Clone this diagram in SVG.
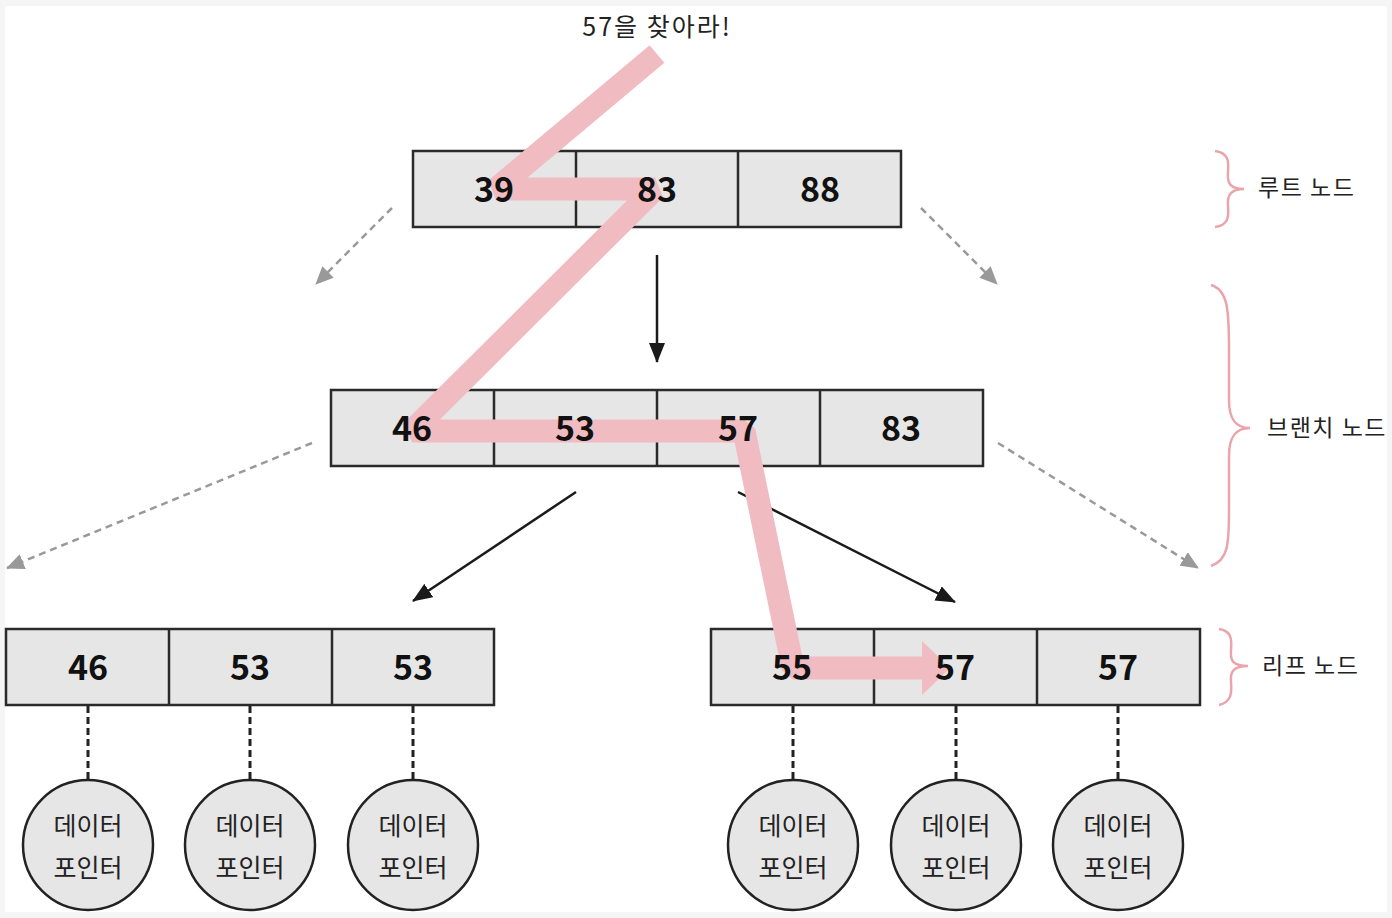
<svg xmlns="http://www.w3.org/2000/svg" width="1392" height="918" viewBox="0 0 1392 918">
<style>
.cell{fill:#e6e6e6;stroke:#2a2a2a;stroke-width:2.5}
.div{stroke:#2a2a2a;stroke-width:2.5}
.key{font-family:"Noto Sans CJK KR","Noto Sans",sans-serif;font-weight:700;font-size:34px;fill:#111;text-anchor:middle}
.lbl{font-family:"Noto Sans CJK KR","Noto Sans",sans-serif;font-size:25px;fill:#222;text-anchor:middle}
.side{font-family:"Noto Sans CJK KR","Noto Sans",sans-serif;font-size:23px;letter-spacing:1.5px;fill:#222}
.ptr{fill:#e6e6e6;stroke:#222;stroke-width:2.5}
.solid{stroke:#1a1a1a;stroke-width:2.5;fill:none}
.gray{stroke:#999;stroke-width:2.5;stroke-dasharray:7 5;fill:none}
.dot{stroke:#222;stroke-width:3;stroke-dasharray:7 4;fill:none}
.brace{stroke:#eba4ab;stroke-width:2.5;fill:none}
</style>
<defs>
<marker id="ab" markerUnits="userSpaceOnUse" markerWidth="20" markerHeight="16" refX="19" refY="8" orient="auto"><path d="M0,0 L20,8 L0,16 z" fill="#1a1a1a"/></marker>
<marker id="ag" markerUnits="userSpaceOnUse" markerWidth="18" markerHeight="16" refX="17" refY="8" orient="auto"><path d="M0,0 L18,8 L0,16 z" fill="#999"/></marker>
</defs>
<rect x="0" y="0" width="1392" height="918" fill="#f5f5f5"/>
<rect x="5" y="6" width="1382" height="906" fill="#ffffff"/>

<g id="root-node">
<rect class="cell" x="413" y="151" width="488" height="76"/>
<line class="div" x1="576" y1="151" x2="576" y2="227"/>
<line class="div" x1="738" y1="151" x2="738" y2="227"/>
</g>
<g id="branch-node">
<rect class="cell" x="331" y="390" width="652" height="76"/>
<line class="div" x1="494" y1="390" x2="494" y2="466"/>
<line class="div" x1="657" y1="390" x2="657" y2="466"/>
<line class="div" x1="820" y1="390" x2="820" y2="466"/>
</g>
<g id="leaf-left">
<rect class="cell" x="6" y="629" width="488" height="76"/>
<line class="div" x1="169" y1="629" x2="169" y2="705"/>
<line class="div" x1="332" y1="629" x2="332" y2="705"/>
</g>
<g id="leaf-right">
<rect class="cell" x="711" y="629" width="489" height="76"/>
<line class="div" x1="874" y1="629" x2="874" y2="705"/>
<line class="div" x1="1037" y1="629" x2="1037" y2="705"/>
</g>

<g id="connectors">
<line class="solid" x1="657" y1="255" x2="657" y2="362" marker-end="url(#ab)"/>
<line class="solid" x1="576" y1="492" x2="413" y2="601" marker-end="url(#ab)"/>
<line class="solid" x1="738" y1="492" x2="955" y2="602" marker-end="url(#ab)"/>
<line class="gray" x1="392" y1="208" x2="316" y2="284" marker-end="url(#ag)"/>
<line class="gray" x1="921" y1="208" x2="997" y2="284" marker-end="url(#ag)"/>
<line class="gray" x1="312" y1="443" x2="7" y2="568" marker-end="url(#ag)"/>
<line class="gray" x1="998" y1="443" x2="1198" y2="568" marker-end="url(#ag)"/>
<line class="dot" x1="88" y1="706" x2="88" y2="780"/>
<line class="dot" x1="250" y1="706" x2="250" y2="780"/>
<line class="dot" x1="413" y1="706" x2="413" y2="780"/>
<line class="dot" x1="793" y1="706" x2="793" y2="780"/>
<line class="dot" x1="956" y1="706" x2="956" y2="780"/>
<line class="dot" x1="1118" y1="706" x2="1118" y2="780"/>
</g>

<g id="search-path">
<polyline points="657,54 496,189 655,189 412,431 744,431 793,668 924,668" fill="none" stroke="#f0bcc1" stroke-width="23" stroke-linejoin="bevel"/>
<polygon points="922,641 950,668 922,695" fill="#f0bcc1"/>
</g>

<g id="root-keys">
<text class="key" x="494" y="202" font-size="32">39</text>
<text class="key" x="657" y="202" font-size="32">83</text>
<text class="key" x="820" y="202" font-size="32">88</text>
</g>
<g id="branch-keys">
<text class="key" x="412" y="441">46</text>
<text class="key" x="575" y="441">53</text>
<text class="key" x="738" y="441">57</text>
<text class="key" x="901" y="441">83</text>
</g>
<g id="leaf-left-keys">
<text class="key" x="88" y="680" font-size="36">46</text>
<text class="key" x="250" y="680" font-size="36">53</text>
<text class="key" x="413" y="680" font-size="36">53</text>
</g>
<g id="leaf-right-keys">
<text class="key" x="792" y="680">55</text>
<text class="key" x="955" y="680">57</text>
<text class="key" x="1118" y="680">57</text>
</g>

<g id="ptr1"><circle class="ptr" cx="88" cy="845" r="65"/><text class="lbl" x="88" y="835">데이터</text><text class="lbl" x="88" y="877">포인터</text></g>
<g id="ptr2"><circle class="ptr" cx="250" cy="845" r="65"/><text class="lbl" x="250" y="835">데이터</text><text class="lbl" x="250" y="877">포인터</text></g>
<g id="ptr3"><circle class="ptr" cx="413" cy="845" r="65"/><text class="lbl" x="413" y="835">데이터</text><text class="lbl" x="413" y="877">포인터</text></g>
<g id="ptr4"><circle class="ptr" cx="793" cy="845" r="65"/><text class="lbl" x="793" y="835">데이터</text><text class="lbl" x="793" y="877">포인터</text></g>
<g id="ptr5"><circle class="ptr" cx="956" cy="845" r="65"/><text class="lbl" x="956" y="835">데이터</text><text class="lbl" x="956" y="877">포인터</text></g>
<g id="ptr6"><circle class="ptr" cx="1118" cy="845" r="65"/><text class="lbl" x="1118" y="835">데이터</text><text class="lbl" x="1118" y="877">포인터</text></g>

<g id="title"><text class="lbl" x="657" y="36" font-size="29" letter-spacing="2">57을 찾아라!</text></g>

<g id="label-root">
<path class="brace" d="M1215,151 C1228,153 1229,160 1228,172 C1227,183 1230,189 1244,189 C1230,189 1227,196 1228,206 C1229,218 1228,225 1215,227"/>
<text class="side" x="1258" y="196">루트 노드</text>
</g>
<g id="label-branch">
<path class="brace" d="M1211,285 C1228,290 1229,310 1229,350 L1229,400 C1229,420 1236,428 1250,428 C1236,428 1229,436 1229,456 L1229,510 C1229,545 1228,560 1211,566"/>
<text class="side" x="1267" y="436">브랜치 노드</text>
</g>
<g id="label-leaf">
<path class="brace" d="M1219,629 C1231,631 1232,638 1231,650 C1230,661 1233,666 1248,666 C1233,666 1230,672 1231,682 C1232,694 1231,702 1219,705"/>
<text class="side" x="1262" y="674">리프 노드</text>
</g>
</svg>
